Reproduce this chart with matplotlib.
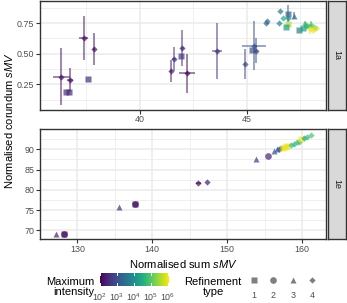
import numpy as np
import matplotlib
matplotlib.use("Agg")
import matplotlib.pyplot as plt
from matplotlib.colors import Normalize

plt.rcParams['font.family'] = ['Liberation Sans', 'DejaVu Sans']
plt.rcParams['mathtext.fontset'] = 'custom'
plt.rcParams['mathtext.rm'] = 'Liberation Sans'
plt.rcParams['mathtext.it'] = 'Liberation Sans:italic'

# ---------------- data ----------------
# panel 1a
a_x = [36.33, 36.55, 36.68, 36.74, 37.57, 37.37, 37.86,
       41.48, 41.60, 41.92, 42.00, 42.22, 43.60, 44.92, 45.34, 45.26, 45.44,
       45.90, 45.98, 46.56, 46.53, 46.95, 46.95, 46.72, 47.22, 46.95, 46.85,
       47.45, 47.64, 47.73, 47.87, 48.00, 48.15, 47.97, 48.10, 48.25, 47.80]
a_y = [0.314, 0.190, 0.190, 0.284, 0.297, 0.629, 0.539,
       0.360, 0.455, 0.480, 0.547, 0.340, 0.520, 0.415, 0.566, 0.533, 0.525,
       0.750, 0.765, 0.850, 0.750, 0.826, 0.790, 0.790, 0.810, 0.745, 0.720,
       0.695, 0.710, 0.745, 0.730, 0.735, 0.720, 0.703, 0.695, 0.710, 0.725]
a_xerr = [0.39, 0, 0, 0.15, 0, 0.23, 0.05,
          0.05, 0.10, 0, 0.08, 0.39, 0.23, 0.05, 0.56, 0, 0.10,
          0, 0, 0, 0, 0, 0, 0, 0, 0, 0,
          0, 0, 0.05, 0, 0.05, 0, 0.05, 0, 0, 0]
a_yerr = [0.230, 0, 0, 0.100, 0, 0.180, 0.130,
          0.090, 0.100, 0, 0.150, 0.160, 0.230, 0.120, 0.200, 0, 0.100,
          0, 0, 0, 0, 0.070, 0, 0, 0.030, 0, 0,
          0, 0, 0.020, 0, 0.030, 0, 0.040, 0, 0, 0]
a_int = [2.2, 2.5, 2.5, 2.2, 2.5, 2.2, 2.2,
         2.3, 2.6, 2.7, 2.5, 2.1, 2.6, 2.9, 3.0, 3.0, 2.9,
         3.2, 3.5, 3.6, 3.8, 3.2, 3.9, 4.4, 3.3, 5.6, 4.2,
         3.8, 4.2, 4.8, 5.0, 4.9, 5.3, 6.0, 5.9, 5.7, 4.6]
a_type = [4, 1, 1, 4, 1, 4, 4,
          4, 4, 1, 4, 4, 4, 4, 4, 1, 4,
          4, 4, 4, 4, 1, 4, 4, 3, 1, 1,
          1, 1, 4, 4, 4, 4, 4, 4, 4, 4]

# panel 1e
e_x = [127.2, 128.2, 128.2, 135.55, 137.7, 137.7, 146.15, 147.3, 153.9, 155.4,
       156.2, 156.6, 156.9, 157.2, 157.5, 157.7, 158.0, 158.5, 158.9, 159.3,
       159.6, 159.9, 160.3, 160.7, 161.2]
e_y = [69.1, 69.0, 69.0, 75.8, 76.6, 76.6, 81.7, 81.95, 87.6, 88.4,
       89.6, 90.1, 90.0, 90.2, 90.3, 90.5, 90.7, 91.1, 91.4, 91.7,
       91.9, 92.5, 92.8, 93.1, 93.5]
e_xerr = [0, 0, 0, 0, 0, 0, 0.35, 0, 0, 0,
          0, 0, 0, 0, 0, 0, 0, 0, 0, 0,
          0, 0, 0, 0, 0]
e_yerr = [0] * 25
e_int = [2.4, 2.1, 2.3, 2.6, 2.1, 2.3, 2.1, 2.3, 2.7, 2.4,
         3.0, 2.9, 3.1, 3.3, 6.0, 6.0, 5.9, 4.8, 4.6, 4.9,
         4.7, 6.0, 4.4, 4.7, 4.9]
e_type = [3, 2, 1, 3, 2, 1, 4, 4, 3, 2,
          3, 3, 4, 4, 1, 1, 1, 4, 4, 4,
          4, 1, 4, 4, 4]

panel_labels = ["1a", "1e"]
cbar_ticks = [2, 3, 4, 5, 6]
type_levels = [1, 2, 3, 4]

# ---------------- styling ----------------
W, H = 347, 303
fig = plt.figure(figsize=(W / 100, H / 100), dpi=100)
cmap = plt.get_cmap('viridis')
norm = Normalize(vmin=2.0, vmax=6.05)
markers = {1: 's', 2: 'o', 3: '^', 4: 'D'}
msize = {1: 4.3, 2: 4.8, 3: 4.9, 4: 3.2}
grid_col = '#EBEBEB'
frame_col = '#333333'
tick_col = '#4D4D4D'

def fpos(x0, y0, x1, y1):
    return [x0 / W, 1 - y1 / H, (x1 - x0) / W, (y1 - y0) / H]

def style_axes(ax, xmaj, xmin, ymaj, ymin):
    ax.set_xticks(xmaj)
    ax.set_xticks(xmin, minor=True)
    ax.set_yticks(ymaj)
    ax.set_yticks(ymin, minor=True)
    ax.grid(True, which='major', color=grid_col, lw=1.1, zorder=0)
    ax.grid(True, which='minor', color=grid_col, lw=0.55, zorder=0)
    ax.set_axisbelow(True)
    for s in ax.spines.values():
        s.set_color(frame_col)
        s.set_linewidth(1.0)
    ax.tick_params(which='major', length=2.6, width=0.8, color=frame_col,
                   labelsize=6.4, labelcolor=tick_col, pad=1.5)
    ax.tick_params(which='minor', length=0)

def draw_panel(ax, xs, ys, xe, ye, it, tp):
    for i in range(len(xs)):
        c = cmap(norm(it[i]))
        if xe[i] > 0 or ye[i] > 0:
            ax.errorbar(xs[i], ys[i], xerr=xe[i] if xe[i] > 0 else None,
                        yerr=ye[i] if ye[i] > 0 else None, fmt='none',
                        ecolor=c, elinewidth=1.2, alpha=0.6, capsize=0, zorder=2)
    for i in range(len(xs)):
        c = cmap(norm(it[i]))
        ax.plot(xs[i], ys[i], marker=markers[tp[i]], ms=msize[tp[i]],
                color=c, mec='none', alpha=0.7, ls='none', zorder=3)

def draw_strip(y0, y1, label):
    sax = fig.add_axes(fpos(327.5, y0, 346, y1))
    sax.set_facecolor('#D9D9D9')
    sax.set_xticks([]); sax.set_yticks([])
    for s in sax.spines.values():
        s.set_color(frame_col); s.set_linewidth(1.0)
    sax.text(0.5, 0.5, label, rotation=-90, ha='center', va='center',
             fontsize=6.4, color='#1A1A1A', transform=sax.transAxes)

# top panel
ax1 = fig.add_axes(fpos(40, 1, 326, 109.5))
draw_panel(ax1, a_x, a_y, a_xerr, a_yerr, a_int, a_type)
ax1.set_xlim(35.33, 48.72)
ax1.set_ylim(0.045, 0.93)
style_axes(ax1, [40, 45], [37.5, 42.5, 47.5], [0.25, 0.5, 0.75],
           [0.125, 0.375, 0.625, 0.875])
ax1.set_yticklabels(['0.25', '0.50', '0.75'])
draw_strip(1, 109.5, panel_labels[0])

# bottom panel
ax2 = fig.add_axes(fpos(40, 129, 326, 239))
draw_panel(ax2, e_x, e_y, e_xerr, e_yerr, e_int, e_type)
ax2.set_xlim(125.5, 163.2)
ax2.set_ylim(67.85, 95.0)
style_axes(ax2, [130, 140, 150, 160], [125, 135, 145, 155],
           [70, 75, 80, 85, 90], [72.5, 77.5, 82.5, 87.5, 92.5])
draw_strip(129, 239, panel_labels[1])

# axis titles
fig.text(183 / W, 1 - 263.5 / H, r'Normalised sum $\mathit{sMV}$', ha='center',
         va='center', fontsize=8, color='black')
fig.text(9 / W, 1 - 120 / H, r'Normalised corundum $\mathit{sMV}$', ha='center',
         va='center', rotation=90, fontsize=8, color='black')

# colour legend
fig.text(94.5 / W, 1 - 287 / H, 'Maximum\nintensity', ha='right', va='center',
         fontsize=8, linespacing=0.95)
cax = fig.add_axes(fpos(100, 272.5, 168.5, 285.5))
grad = np.linspace(norm.vmin, norm.vmax, 256).reshape(1, -1)
cax.imshow(grad, aspect='auto', cmap=cmap, norm=norm,
           extent=[norm.vmin, norm.vmax, 0, 1])
cax.set_xlim(norm.vmin, norm.vmax)
cax.set_ylim(0, 1)
for t in cbar_ticks:
    cax.plot([t, t], [0, 0.2], color='white', lw=0.7)
    cax.plot([t, t], [0.8, 1], color='white', lw=0.7)
cax.set_xticks([]); cax.set_yticks([])
for s in cax.spines.values():
    s.set_visible(False)
for t in cbar_ticks:
    xp = cax.transData.transform((t, 0))[0]
    xf = fig.transFigure.inverted().transform((xp, 0))[0]
    fig.text(xf, 1 - 297 / H, r'$10^{%d}$' % t, ha='center', va='center',
             fontsize=6.4, color=tick_col)

# shape legend
fig.text(213 / W, 1 - 287 / H, 'Refinement\ntype', ha='center', va='center',
         fontsize=8, linespacing=0.95)
lax = fig.add_axes([0, 0, 1, 1])
lax.set_xlim(0, W); lax.set_ylim(H, 0)
lax.axis('off')
key_x = [254, 273.3, 292.7, 312.3]
for k, lvl in enumerate(type_levels):
    lax.plot(key_x[k], 279.5, marker=markers[lvl], ms=msize[lvl],
             color='#7F7F7F', mec='none', ls='none')
    lax.text(key_x[k], 295.5, str(lvl), ha='center', va='center',
             fontsize=6.4, color=tick_col)

fig.savefig('out.png', dpi=100)
